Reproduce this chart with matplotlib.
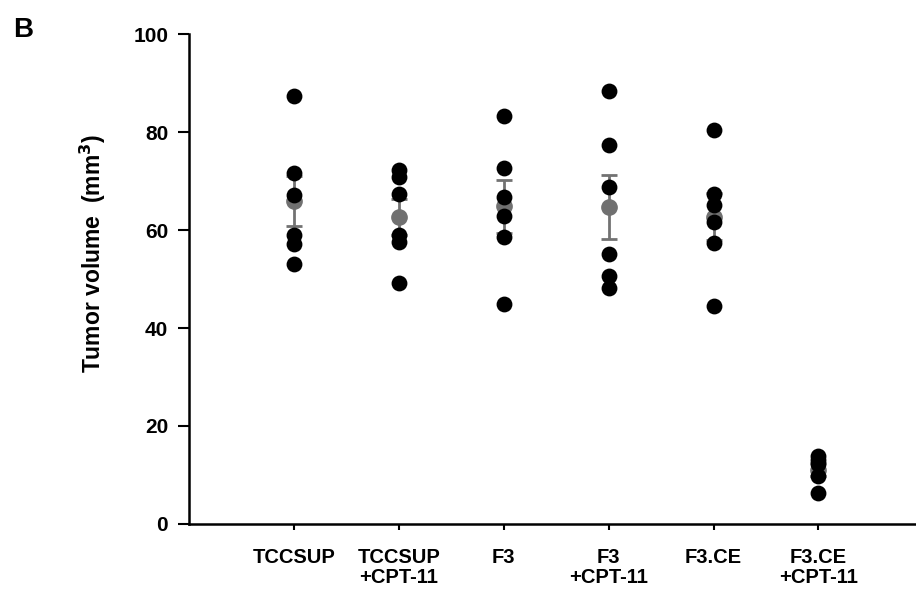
import numpy as np
import matplotlib
matplotlib.use("Agg")
import matplotlib.pyplot as plt

plt.rcParams["font.family"] = ["Liberation Sans", "DejaVu Sans"]
plt.rcParams["font.weight"] = "bold"

groups = ["TCCSUP", "TCCSUP\n+CPT-11", "F3", "F3\n+CPT-11", "F3.CE", "F3.CE\n+CPT-11"]

# tumour volumes per mouse (mm3)
tccsup = [87.3, 71.6, 67.1, 58.9, 57.2, 53.1]
tccsup_cpt = [72.2, 70.8, 67.3, 58.9, 57.5, 49.1]
f3 = [83.4, 72.7, 66.7, 62.8, 58.5, 44.9]
f3_cpt = [88.4, 77.3, 68.8, 55.1, 50.7, 48.2]
f3ce = [80.5, 67.4, 65.2, 61.6, 57.3, 44.6]
f3ce_cpt = [13.9, 13.0, 12.3, 9.8, 6.4]

values = [tccsup, tccsup_cpt, f3, f3_cpt, f3ce, f3ce_cpt]

fig = plt.figure(figsize=(9.16, 5.9), dpi=100)
ax = fig.add_axes([0.2063, 0.112, 0.7937, 0.830])

# mean +/- SEM in grey, individual tumours in black on top
for i, vals in enumerate(values):
    vals = np.array(vals)
    mean = vals.mean()
    sem = vals.std(ddof=1) / np.sqrt(len(vals))
    ax.errorbar(i, mean, yerr=sem, fmt="o", color="#707070", ecolor="#727272",
                markersize=11, elinewidth=2, capsize=6, capthick=2, zorder=2)
    ax.scatter(np.full(len(vals), i), vals, s=130, color="black", zorder=3,
               linewidths=0)

ax.set_xlim(-1.0, 5.93)
ax.set_ylim(0, 100)
ax.set_yticks(range(0, 101, 20))
ax.set_xticks(range(len(groups)))
ax.set_xticklabels(groups, fontsize=14.5, fontweight="bold", linespacing=1.1)
ax.tick_params(axis="y", labelsize=15, direction="out", length=8, width=1.5, pad=7)
ax.tick_params(axis="x", direction="out", length=4, width=1.5, pad=13)
for lab in ax.get_yticklabels():
    lab.set_fontweight("bold")

ax.spines["top"].set_visible(False)
ax.spines["right"].set_visible(False)
ax.spines["left"].set_linewidth(1.8)
ax.spines["bottom"].set_linewidth(1.8)

fig.text(0.1015, 0.571, "Tumor volume  (mm$^\\mathbf{3}$)", rotation=90,
         ha="center", va="center", fontsize=16.5, fontweight="bold")

fig.text(0.014, 0.937, "B", fontsize=20, fontweight="bold")

fig.savefig("out.png", dpi=100)
